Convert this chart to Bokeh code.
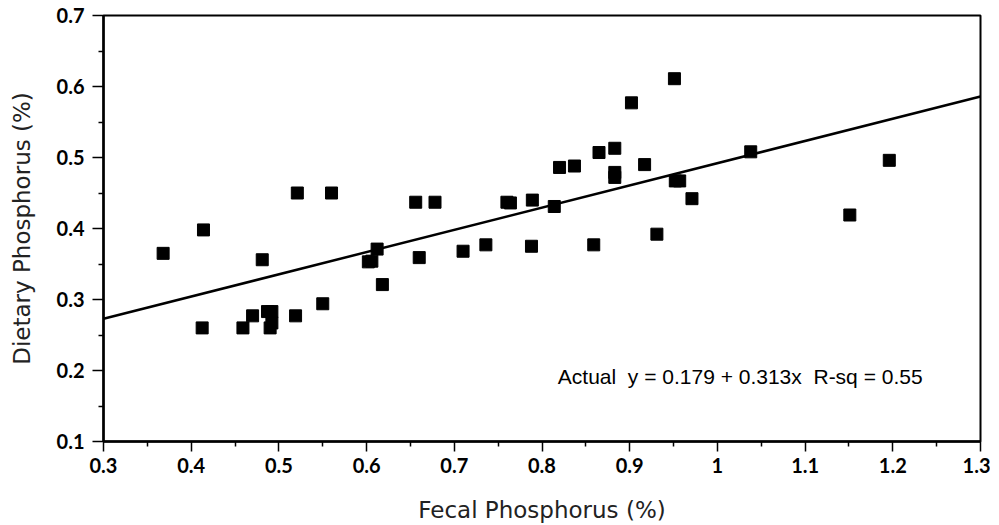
from bokeh.plotting import figure
from bokeh.models import FixedTicker, NumeralTickFormatter, Label, Range1d
from bokeh.embed import file_html
from bokeh.resources import INLINE

# Data
fecal_p = [0.368, 0.414, 0.481, 0.4125, 0.459, 0.470, 0.487, 0.492, 0.492, 0.490,
           0.519, 0.550, 0.602, 0.606, 0.612, 0.618, 0.660, 0.710, 0.736, 0.788,
           0.521, 0.560, 0.656, 0.678, 0.760, 0.764, 0.789,
           0.951, 0.902, 0.865, 0.883, 0.820, 0.837, 0.917, 0.883, 0.883,
           0.952, 0.957, 0.971, 0.814, 1.038, 1.196, 1.151, 0.931, 0.859]
dietary_p = [0.365, 0.398, 0.356, 0.260, 0.260, 0.277, 0.283, 0.283, 0.267, 0.260,
             0.277, 0.294, 0.353, 0.354, 0.371, 0.321, 0.359, 0.368, 0.377, 0.375,
             0.450, 0.450, 0.437, 0.437, 0.437, 0.436, 0.440,
             0.611, 0.577, 0.507, 0.513, 0.486, 0.488, 0.490, 0.479, 0.472,
             0.467, 0.467, 0.442, 0.431, 0.508, 0.496, 0.419, 0.392, 0.377]
intercept = 0.179
slope = 0.313
r_sq = 0.55
x_ticks = [0.3, 0.4, 0.5, 0.6, 0.7, 0.8, 0.9, 1.0, 1.1, 1.2, 1.3]
x_minor = [0.35, 0.45, 0.55, 0.65, 0.75, 0.85, 0.95, 1.05, 1.15, 1.25]
y_ticks = [0.1, 0.2, 0.3, 0.4, 0.5, 0.6, 0.7]
y_minor = [0.15, 0.25, 0.35, 0.45, 0.55, 0.65]

p = figure(width=990, height=525, output_backend="svg", toolbar_location=None,
           x_range=Range1d(0.3, 1.3), y_range=Range1d(0.1, 0.7),
           min_border_left=103, min_border_right=10, min_border_top=15, min_border_bottom=80)
p.xgrid.visible = False
p.ygrid.visible = False
p.outline_line_color = "black"
p.outline_line_width = 2
p.background_fill_color = "white"
p.border_fill_color = "white"

line_x = [x_ticks[0], x_ticks[-1]]
line_y = [intercept + slope * v for v in line_x]
p.line(line_x, line_y, line_color="black", line_width=2.5)

p.scatter(fecal_p, dietary_p, marker="square", size=12, fill_color="black", line_color="black")

for ax, maj, mnr in ((p.xaxis[0], x_ticks, x_minor), (p.yaxis[0], y_ticks, y_minor)):
    ax.ticker = FixedTicker(ticks=maj, minor_ticks=mnr)
    ax.formatter = NumeralTickFormatter(format="0.[0]")
    ax.axis_line_width = 2.5
    ax.axis_line_color = "black"
    ax.major_tick_line_width = 1.5
    ax.minor_tick_line_width = 1.5
    ax.major_tick_in = 0
    ax.minor_tick_in = 0
    ax.major_label_text_font = "Lato"
    ax.major_label_text_font_style = "bold"
    ax.major_label_text_font_size = "20px"
    ax.major_label_text_color = "black"
    ax.axis_label_text_font = "DejaVu Sans"
    ax.axis_label_text_font_style = "normal"
    ax.axis_label_text_font_size = "23px"
    ax.axis_label_text_color = "#222222"

p.xaxis.major_tick_out = 10
p.xaxis.minor_tick_out = 5
p.yaxis.major_tick_out = 11
p.yaxis.minor_tick_out = 5
p.xaxis.major_label_standoff = 6
p.yaxis.major_label_standoff = 8
p.xaxis.axis_label = "Fecal Phosphorus (%)"
p.yaxis.axis_label = "Dietary Phosphorus (%)"
p.xaxis.axis_label_standoff = 21
p.yaxis.axis_label_standoff = 19

nb = "\u00a0"
p.add_layout(Label(x=1.026, y=0.192,
                   text=f"Actual{nb}{nb}y = {intercept} + {slope}x{nb}{nb}R-sq = {r_sq}",
                   text_font="Liberation Sans", text_font_size="21px", text_color="black",
                   text_align="center", text_baseline="middle"))

open("out.html", "w").write(file_html(p, INLINE))
